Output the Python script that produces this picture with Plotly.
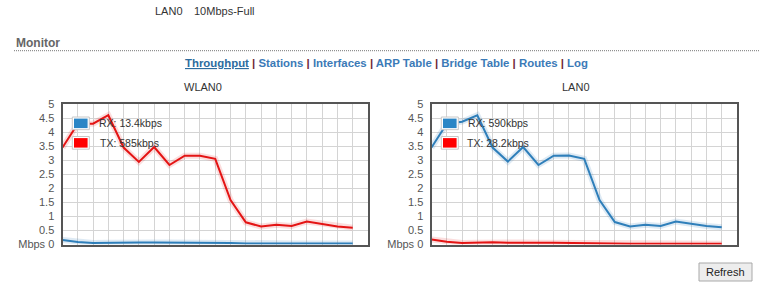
import plotly.graph_objects as go

W, H = 759, 289

# ---------------- data ----------------
samples = list(range(20))
wlan_rx = [0.16, 0.09, 0.05, 0.06, 0.08, 0.07, 0.07, 0.07, 0.06, 0.06,
           0.05, 0.05, 0.04, 0.04, 0.04, 0.04, 0.04, 0.04, 0.04, 0.04]
wlan_tx = [3.45, 4.30, 4.30, 4.60, 3.45, 2.94, 3.47, 2.83, 3.16, 3.16,
           3.05, 1.58, 0.79, 0.64, 0.70, 0.66, 0.82, 0.73, 0.64, 0.60]
lan_rx = [3.45, 4.30, 4.37, 4.60, 3.45, 2.95, 3.47, 2.83, 3.16, 3.17,
          3.05, 1.58, 0.80, 0.64, 0.70, 0.66, 0.82, 0.73, 0.66, 0.61]
lan_tx = [0.18, 0.10, 0.05, 0.06, 0.08, 0.06, 0.07, 0.06, 0.06, 0.05,
          0.05, 0.04, 0.03, 0.03, 0.03, 0.03, 0.03, 0.03, 0.03, 0.03]

chart_titles = ["WLAN0", "LAN0"]
legend_rx = ["RX: 13.4kbps", "RX: 590kbps"]
legend_tx = ["TX: 585kbps", "TX: 28.2kbps"]
y_tickvals = [0, 0.5, 1, 1.5, 2, 2.5, 3, 3.5, 4, 4.5, 5]
y_ticktext = ["Mbps 0", "0.5", "1", "1.5", "2", "2.5", "3", "3.5", "4", "4.5", "5"]
nav_links = ["Throughput", "Stations", "Interfaces", "ARP Table",
             "Bridge Table", "Routes", "Log"]

RX_COLOR = "#2f7fba"
TX_COLOR = "#e41414"
RX_SWATCH = "#2a86c6"
TX_SWATCH = "#ff0000"
FONT = "Arial, Liberation Sans, sans-serif"


def px(x):
    return x / W


def py(y):
    return 1 - y / H


# plot-area pixel boxes (left, right, top, bottom)
boxes = [(62.5, 368.0, 104.0, 244.5), (431.5, 737.0, 104.0, 244.5)]

fig = go.Figure()

series = [(wlan_rx, wlan_tx), (lan_rx, lan_tx)]
for i, (rx, tx) in enumerate(series):
    xa = "x" if i == 0 else "x2"
    ya = "y" if i == 0 else "y2"
    for vals, col, glow in [(rx, RX_COLOR, "rgba(47,127,186,0.16)"),
                            (tx, TX_COLOR, "rgba(228,20,20,0.14)")]:
        fig.add_trace(go.Scatter(x=samples, y=vals, mode="lines", xaxis=xa, yaxis=ya,
                                 line=dict(color=glow, width=6), hoverinfo="skip",
                                 showlegend=False))
        fig.add_trace(go.Scatter(x=samples, y=vals, mode="lines", xaxis=xa, yaxis=ya,
                                 line=dict(color=col, width=2), showlegend=False))

axis_common = dict(showline=True, mirror=True, linecolor="#555555", linewidth=2,
                   showgrid=True, gridcolor="#d4d4d4", gridwidth=1, zeroline=False,
                   fixedrange=True, automargin=False)

for i, (l, r, t, b) in enumerate(boxes):
    xkey = "xaxis" if i == 0 else "xaxis2"
    ykey = "yaxis" if i == 0 else "yaxis2"
    fig.layout[xkey] = dict(domain=[px(l), px(r)], range=[0, 20], dtick=1, tick0=0,
                            showticklabels=False, ticks="",
                            anchor="y" if i == 0 else "y2", **axis_common)
    fig.layout[ykey] = dict(domain=[py(b), py(t)], range=[0, 5], tickvals=y_tickvals,
                            ticktext=y_ticktext, ticks="", ticklabelstandoff=4,
                            tickfont=dict(family=FONT, size=11, color="#555555"),
                            anchor="x" if i == 0 else "x2", **axis_common)

shapes = []
annotations = []

# chart titles
title_x = [203, 576]
for i, t in enumerate(chart_titles):
    annotations.append(dict(x=px(title_x[i]), y=py(87), xref="paper", yref="paper",
                            text=t, showarrow=False, xanchor="center", yanchor="middle",
                            font=dict(family=FONT, size=11, color="#333333")))

# legends inside charts
for i, (l, r, t, b) in enumerate(boxes):
    for j, (lab, sw) in enumerate([(legend_rx[i], RX_SWATCH), (legend_tx[i], TX_SWATCH)]):
        y0 = 117 + j * 19.5
        x0 = l + 9.8
        shapes.append(dict(type="rect", xref="paper", yref="paper",
                           x0=px(x0), x1=px(x0 + 17), y0=py(y0), y1=py(y0 + 12.7),
                           fillcolor="white", line=dict(color="#c8c8c8", width=1)))
        shapes.append(dict(type="rect", xref="paper", yref="paper",
                           x0=px(x0 + 1.7), x1=px(x0 + 15.3), y0=py(y0 + 1.6), y1=py(y0 + 11.1),
                           fillcolor=sw, line=dict(width=0)))
        tx_off = 34 if j == 0 else (35.5 if i == 0 else 33)
        annotations.append(dict(x=px(l + tx_off), y=py(y0 + 6.3), xref="paper", yref="paper",
                                text=lab, showarrow=False, xanchor="left", yanchor="middle",
                                font=dict(family=FONT, size=10.5, color="#333333")))

# header text
annotations.append(dict(x=px(153), y=py(11), xref="paper", yref="paper", text="LAN0",
                        showarrow=False, xanchor="left", yanchor="middle",
                        font=dict(family=FONT, size=11, color="#333333")))
annotations.append(dict(x=px(191.5), y=py(11), xref="paper", yref="paper", text="10Mbps-Full",
                        showarrow=False, xanchor="left", yanchor="middle",
                        font=dict(family=FONT, size=11, color="#333333")))
annotations.append(dict(x=px(14), y=py(43.5), xref="paper", yref="paper", text="<b>Monitor</b>",
                        showarrow=False, xanchor="left", yanchor="middle",
                        font=dict(family=FONT, size=12, color="#666666")))
shapes.append(dict(type="line", xref="paper", yref="paper", x0=px(14), x1=px(759),
                   y0=py(50.7), y1=py(50.7),
                   line=dict(color="#777777", width=1, dash="1px,1px")))

# navigation links
sep = ' <span style="color:#6e1f35">|</span> '
parts = []
for k, name in enumerate(nav_links):
    if k == 0:
        parts.append('<span style="color:#2d6c9e"><u>%s</u></span>' % name)
    else:
        parts.append('<span style="color:#3b7ab7">%s</span>' % name)
nav_text = "<b>" + sep.join(parts) + "</b>"
annotations.append(dict(x=px(386.8), y=py(63), xref="paper", yref="paper", text=nav_text,
                        showarrow=False, xanchor="center", yanchor="middle",
                        font=dict(family=FONT, size=11.4, color="#3b7ab7")))

# refresh button
shapes.append(dict(type="rect", xref="paper", yref="paper", x0=px(699), x1=px(752),
                   y0=py(263), y1=py(281), fillcolor="#ededed",
                   line=dict(color="#a9a9a9", width=1)))
annotations.append(dict(x=px(725.5), y=py(272), xref="paper", yref="paper", text="Refresh",
                        showarrow=False, xanchor="center", yanchor="middle",
                        font=dict(family=FONT, size=11, color="#222222")))

fig.update_layout(template="none", width=W, height=H, autosize=False,
                  margin=dict(l=0, r=0, t=0, b=0, pad=0),
                  paper_bgcolor="white", plot_bgcolor="white",
                  shapes=shapes, annotations=annotations, showlegend=False,
                  hovermode=False)

fig.write_html("out.html", config={"displayModeBar": False})
